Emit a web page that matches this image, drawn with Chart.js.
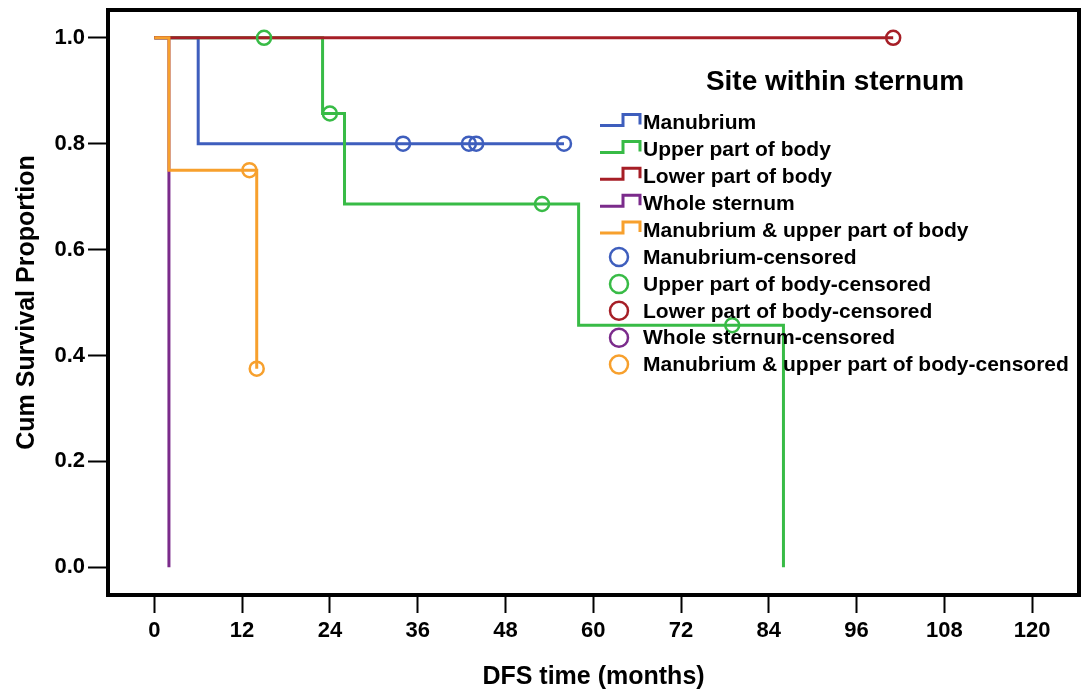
<!DOCTYPE html>
<html>
<head>
<meta charset="utf-8">
<script src="https://cdn.jsdelivr.net/npm/chart.js@4.4.1/dist/chart.umd.min.js"></script>
<style>
  html, body { margin: 0; padding: 0; background: #fff; }
  #wrap { width: 1083px; height: 695px; }
</style>
</head>
<body>
<div id="wrap"><canvas id="km" width="1083" height="695"></canvas></div>
<script>
// axis ticks
const xTicks = [0, 12, 24, 36, 48, 60, 72, 84, 96, 108, 120]
const yTicks = [0, 0.2, 0.4, 0.6, 0.8, 1.0]

const legendTitle = 'Site within sternum'
const groups = ['Manubrium', 'Upper part of body', 'Lower part of body', 'Whole sternum', 'Manubrium & upper part of body']

// Kaplan-Meier steps (time in months, cumulative survival)
const manubriumTime = [0, 6, 56]
const manubriumSurv = [1, 0.8, 0.8]
const upperTime = [0, 23, 26, 58, 86]
const upperSurv = [1, 0.857, 0.686, 0.457, 0]
const lowerTime = [0, 101]
const lowerSurv = [1, 1]
const wholeTime = [0, 2]
const wholeSurv = [1, 0]
const mixTime = [0, 2, 14]
const mixSurv = [1, 0.75, 0.375]

// censored observations
const manubriumCensTime = [34, 43, 44, 56]
const manubriumCensSurv = [0.8, 0.8, 0.8, 0.8]
const upperCensTime = [15, 24, 53, 79]
const upperCensSurv = [1, 0.857, 0.686, 0.457]
const lowerCensTime = [101]
const lowerCensSurv = [1]
const wholeCensTime = []
const wholeCensSurv = []
const mixCensTime = [13, 14]
const mixCensSurv = [0.75, 0.375]

const colors = ['#3e5ebd', '#38bb46', '#a61e26', '#7b2b8b', '#f7a02d']
const lineOrder = [5, 4, 2, 3, 1]   // lower = drawn on top

const times = [manubriumTime, upperTime, lowerTime, wholeTime, mixTime]
const survs = [manubriumSurv, upperSurv, lowerSurv, wholeSurv, mixSurv]
const censTimes = [manubriumCensTime, upperCensTime, lowerCensTime, wholeCensTime, mixCensTime]
const censSurvs = [manubriumCensSurv, upperCensSurv, lowerCensSurv, wholeCensSurv, mixCensSurv]

const FONT = "'Liberation Sans', Arial, sans-serif"
Chart.defaults.font.family = FONT
Chart.defaults.color = '#000'

const pts = (xs, ys) => xs.map((x, k) => ({ x, y: ys[k] }))

const lineSets = groups.map((g, i) => ({
  label: g,
  data: pts(times[i], survs[i]),
  borderColor: colors[i],
  borderWidth: 3,
  stepped: true,
  pointRadius: 0,
  fill: false,
  order: lineOrder[i],
}))

const censSets = groups.map((g, i) => ({
  label: g + '-censored',
  data: pts(censTimes[i], censSurvs[i]),
  showLine: false,
  borderColor: colors[i],
  backgroundColor: 'rgba(0,0,0,0)',
  pointRadius: 7,
  pointBorderWidth: 2.5,
  pointBackgroundColor: 'rgba(0,0,0,0)',
  pointBorderColor: colors[i],
  order: 0,
}))

// scales should not push the plot area in for their edge labels
const noPad = s => { s.paddingTop = 0; s.paddingBottom = 0; s.paddingLeft = 0; s.paddingRight = 0 }

const framePlugin = {
  id: 'frame',
  afterDraw(chart) {
    const { ctx, chartArea: a } = chart
    ctx.save()
    ctx.strokeStyle = '#000'
    ctx.lineWidth = 4
    ctx.strokeRect(a.left, a.top, a.right - a.left, a.bottom - a.top)
    ctx.restore()
  }
}

const legendPlugin = {
  id: 'kmLegend',
  afterDraw(chart) {
    const ctx = chart.ctx
    ctx.save()
    ctx.fillStyle = '#000'
    ctx.textBaseline = 'middle'
    ctx.textAlign = 'center'
    ctx.font = `bold 28px ${FONT}`
    ctx.fillText(legendTitle, 835, 82)

    ctx.font = `bold 21px ${FONT}`
    ctx.textAlign = 'left'
    const rowH = 26.9
    let y = 123.5
    lineSets.forEach(d => {
      ctx.strokeStyle = d.borderColor
      ctx.lineWidth = 3
      ctx.beginPath()
      ctx.moveTo(600, y + 2)
      ctx.lineTo(623, y + 2)
      ctx.lineTo(623, y - 9)
      ctx.lineTo(640, y - 9)
      ctx.lineTo(640, y + 1)
      ctx.stroke()
      ctx.fillStyle = '#000'
      ctx.fillText(d.label, 643, y)
      y += rowH
    })
    censSets.forEach(d => {
      ctx.strokeStyle = d.borderColor
      ctx.lineWidth = 2.5
      ctx.beginPath()
      ctx.arc(619, y - 1, 9, 0, Math.PI * 2)
      ctx.stroke()
      ctx.fillStyle = '#000'
      ctx.fillText(d.label, 643, y)
      y += rowH
    })
    ctx.restore()
  }
}

new Chart(document.getElementById('km'), {
  type: 'line',
  data: { datasets: [...lineSets, ...censSets] },
  plugins: [framePlugin, legendPlugin],
  options: {
    responsive: false,
    devicePixelRatio: 1,
    animation: false,
    layout: { autoPadding: false, padding: { top: 10, right: 4, left: 0, bottom: 0 } },
    plugins: { legend: { display: false }, tooltip: { enabled: false } },
    scales: {
      x: {
        type: 'linear',
        min: -6.33,
        max: 126.4,
        afterBuildTicks: s => { s.ticks = xTicks.map(v => ({ value: v })) },
        afterFit: s => { s.height = 100; noPad(s) },
        border: { display: false },
        grid: { drawOnChartArea: false, drawTicks: true, tickLength: 18, tickWidth: 2, tickColor: '#000' },
        ticks: { autoSkip: false, maxRotation: 0, padding: 5, color: '#000', font: { size: 22, weight: 'bold' }, callback: v => String(v) },
        title: { display: true, text: 'DFS time (months)', color: '#000', font: { size: 25, weight: 'bold' }, padding: { top: 0, bottom: 3 } },
      },
      y: {
        type: 'linear',
        min: -0.0525,
        max: 1.0525,
        afterBuildTicks: s => { s.ticks = yTicks.map(v => ({ value: v })) },
        afterFit: s => { s.width = 108; noPad(s) },
        border: { display: false },
        grid: { drawOnChartArea: false, drawTicks: true, tickLength: 20, tickWidth: 2, tickColor: '#000' },
        ticks: { autoSkip: false, padding: 3, color: '#000', font: { size: 22, weight: 'bold' }, callback: v => Number(v).toFixed(1) },
        title: { display: true, text: 'Cum Survival Proportion', color: '#000', font: { size: 25, weight: 'bold' }, padding: { top: 12, bottom: 0 } },
      },
    },
  },
})
</script>
</body>
</html>
